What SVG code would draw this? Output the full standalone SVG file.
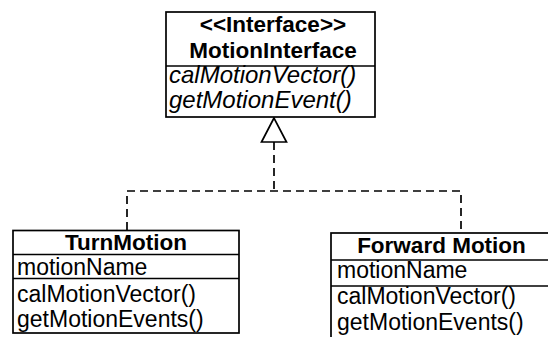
<svg xmlns="http://www.w3.org/2000/svg" width="548" height="337" viewBox="0 0 548 337">
  <style>
    .box { fill: #ffffff; stroke: #000000; stroke-width: 1.7; }
    .sep { stroke: #000000; stroke-width: 1.7; }
    .t { font-family: "Liberation Sans", Arial, Helvetica, sans-serif; font-size: 23px; fill: #000000; }
    .b { font-weight: bold; font-size: 22.5px; }
    .i { font-style: italic; font-size: 24px; }
    .dash { fill: none; stroke: #000000; stroke-width: 1.7; stroke-dasharray: 8 5; }
  </style>
  <rect width="548" height="337" fill="#ffffff"/>

  <!-- realization connectors -->
  <g id="connectors">
    <polyline class="dash" points="274,142 274,191"/>
    <polyline class="dash" points="127,230 127,191 461,191 461,233"/>
    <polygon points="274,118 261.5,142 286.5,142" fill="#ffffff" stroke="#000000" stroke-width="1.7"/>
  </g>

  <!-- interface -->
  <g id="MotionInterface">
    <rect class="box" x="166" y="12" width="209" height="105"/>
    <line class="sep" x1="166" y1="66" x2="375" y2="66"/>
    <text class="t b" x="273" y="32" text-anchor="middle">&lt;&lt;Interface&gt;&gt;</text>
    <text class="t b" x="273" y="58" text-anchor="middle">MotionInterface</text>
    <text class="t i" x="169" y="83">calMotionVector()</text>
    <text class="t i" x="169" y="108">getMotionEvent()</text>
  </g>

  <!-- TurnMotion class -->
  <g id="TurnMotion">
    <rect class="box" x="13" y="230.5" width="226" height="102.5"/>
    <line class="sep" x1="13" y1="254.5" x2="239" y2="254.5"/>
    <line class="sep" x1="13" y1="278.5" x2="239" y2="278.5"/>
    <text class="t b" x="126" y="250" text-anchor="middle">TurnMotion</text>
    <text class="t" x="17" y="275">motionName</text>
    <text class="t" x="17" y="302">calMotionVector()</text>
    <text class="t" x="17" y="327">getMotionEvents()</text>
  </g>

  <!-- Forward Motion class -->
  <g id="ForwardMotion">
    <rect class="box" x="331" y="233" width="240" height="120"/>
    <line class="sep" x1="331" y1="260" x2="571" y2="260"/>
    <line class="sep" x1="331" y1="286" x2="571" y2="286"/>
    <text class="t b" x="441.5" y="253" text-anchor="middle">Forward Motion</text>
    <text class="t" x="337" y="278">motionName</text>
    <text class="t" x="337" y="304">calMotionVector()</text>
    <text class="t" x="337" y="330">getMotionEvents()</text>
  </g>
</svg>
